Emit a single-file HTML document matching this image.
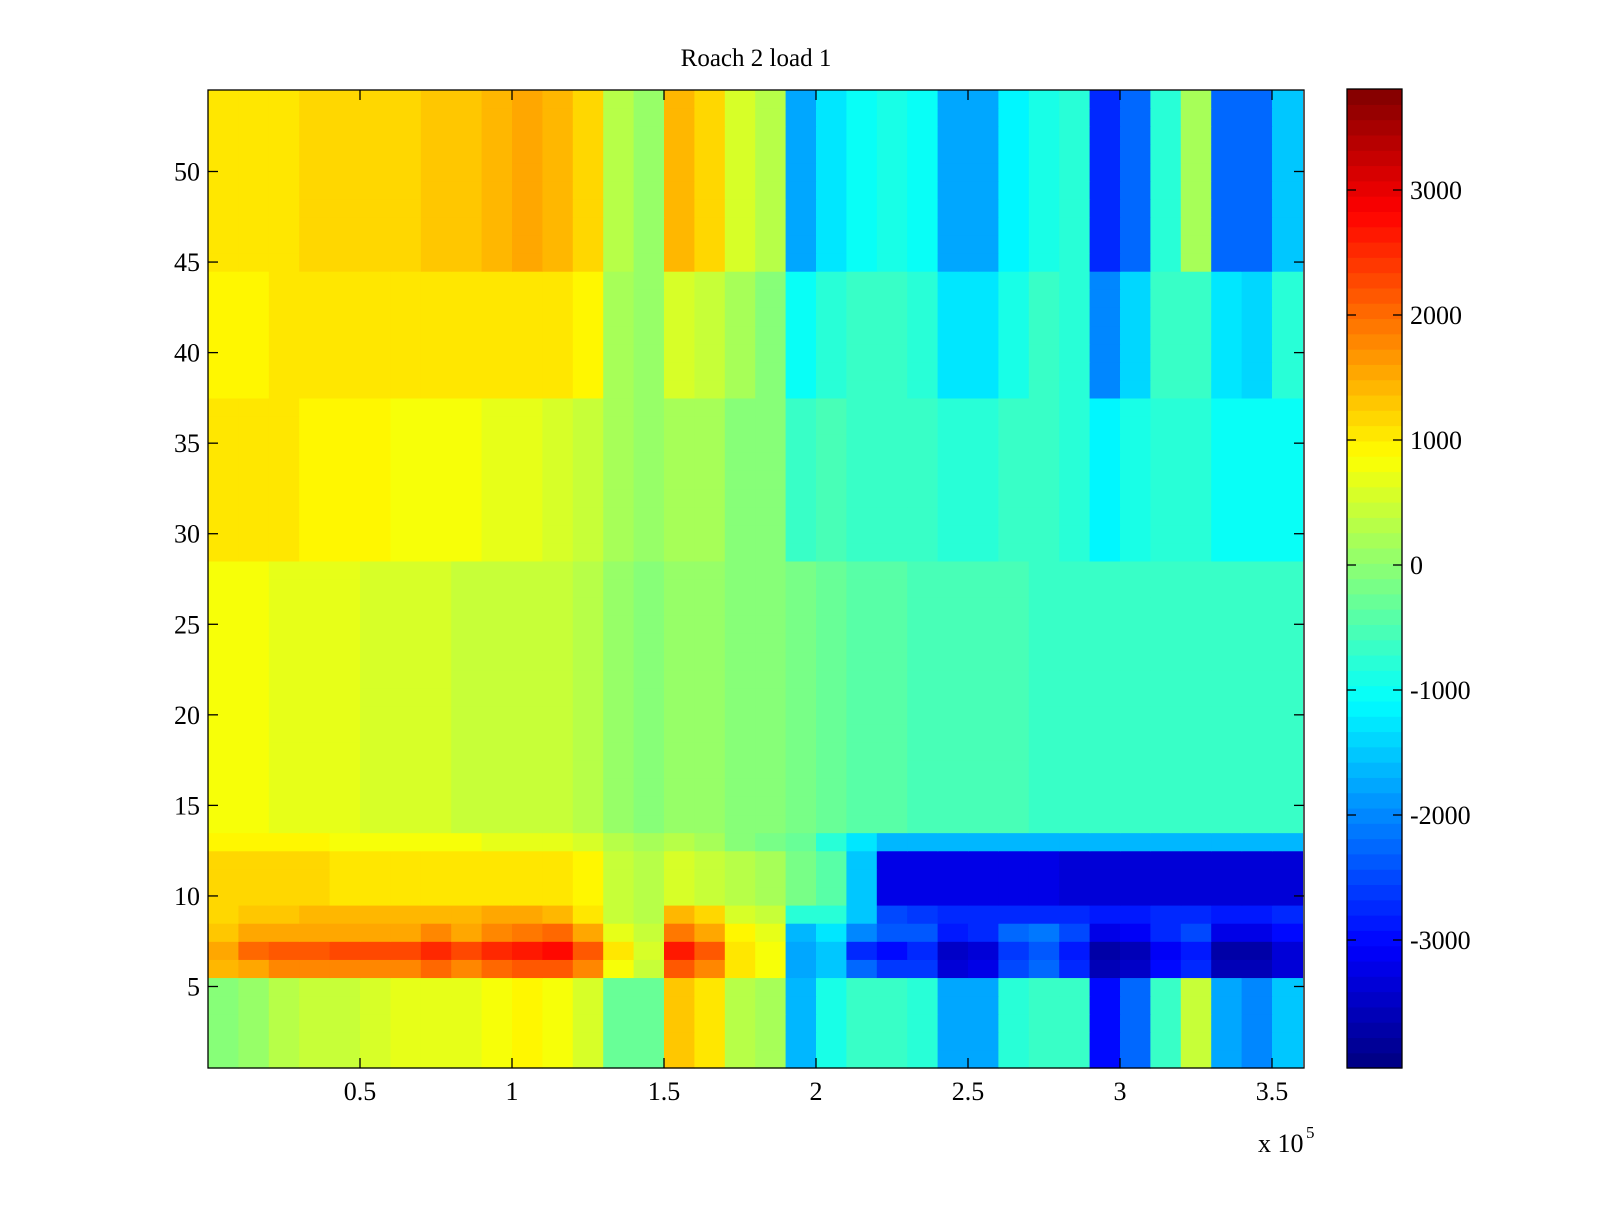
<!DOCTYPE html>
<html><head><meta charset="utf-8"><style>
html,body{margin:0;padding:0;background:#fff;}
svg text{font-family:"Liberation Serif",serif;fill:#000;}
</style></head><body>
<svg id="fig" width="1600" height="1200" xmlns="http://www.w3.org/2000/svg">
<rect width="1600" height="1200" fill="#fff"/>
<text x="756" y="66" font-size="25" text-anchor="middle">Roach 2 load 1</text>
<g id="heat"></g>
<g id="cbar"></g>
<g id="axes"></g>
</svg>
<script>
// values in thousands; 36 x-segments of 1e4 each; bands of rows from bottom
const bandRowCounts = [5,1,1,1,1,3,1,15,9,7,10];
const bandValues = [
[0.0,0.1,0.3,0.4,0.5,0.6,0.7,0.7,0.7,0.8,0.9,0.8,0.6,-0.3,-0.3,1.3,1.1,0.3,0.2,-1.6,-0.9,-0.7,-0.6,-0.8,-1.8,-1.7,-0.8,-0.6,-0.7,-3.0,-2.2,-0.6,0.4,-1.8,-2.0,-1.5],
[1.4,1.6,1.8,1.8,1.8,1.8,1.8,2.0,1.8,2.0,2.1,2.2,1.8,0.8,0.5,2.2,1.8,1.0,0.8,-1.8,-1.5,-2.3,-2.6,-2.6,-3.3,-3.2,-2.5,-2.3,-2.8,-3.6,-3.5,-3.0,-2.8,-3.6,-3.6,-3.3],
[1.6,2.0,2.2,2.2,2.3,2.3,2.3,2.5,2.3,2.5,2.6,2.8,2.2,1.0,0.6,2.7,2.2,1.0,0.8,-1.8,-1.5,-2.7,-3.0,-2.8,-3.5,-3.4,-2.6,-2.4,-2.9,-3.7,-3.6,-3.1,-2.9,-3.7,-3.7,-3.4],
[1.3,1.5,1.6,1.6,1.6,1.6,1.6,1.8,1.6,1.8,1.9,2.0,1.6,0.7,0.5,1.9,1.6,0.9,0.7,-1.6,-1.3,-2.0,-2.4,-2.4,-2.9,-2.8,-2.3,-2.1,-2.5,-3.2,-3.1,-2.7,-2.5,-3.2,-3.2,-3.0],
[1.2,1.3,1.3,1.4,1.4,1.4,1.4,1.4,1.4,1.5,1.5,1.4,1.1,0.5,0.3,1.4,1.2,0.6,0.5,-0.8,-0.8,-1.5,-2.5,-2.6,-2.8,-2.8,-2.7,-2.7,-2.8,-2.9,-2.9,-2.8,-2.8,-2.9,-2.9,-2.8],
[1.2,1.2,1.2,1.2,1.1,1.1,1.1,1.1,1.1,1.1,1.1,1.0,0.9,0.5,0.3,0.6,0.5,0.3,0.2,-0.2,-0.4,-1.5,-3.2,-3.2,-3.2,-3.2,-3.2,-3.2,-3.3,-3.3,-3.3,-3.3,-3.3,-3.3,-3.3,-3.3],
[0.9,0.9,0.9,0.9,0.8,0.8,0.8,0.8,0.8,0.7,0.7,0.7,0.6,0.3,0.2,0.3,0.2,0.0,-0.2,-0.3,-0.8,-1.3,-1.6,-1.6,-1.6,-1.6,-1.6,-1.6,-1.6,-1.6,-1.6,-1.6,-1.6,-1.6,-1.6,-1.6],
[0.8,0.8,0.7,0.7,0.7,0.6,0.6,0.6,0.5,0.5,0.5,0.4,0.3,0.1,0.0,0.1,0.1,0.0,-0.1,-0.2,-0.3,-0.4,-0.4,-0.5,-0.5,-0.5,-0.5,-0.6,-0.6,-0.6,-0.6,-0.6,-0.6,-0.6,-0.7,-0.7],
[1.0,1.0,1.0,0.9,0.9,0.9,0.8,0.8,0.8,0.7,0.7,0.6,0.5,0.2,0.1,0.2,0.2,0.0,-0.1,-0.6,-0.5,-0.6,-0.6,-0.7,-0.8,-0.8,-0.7,-0.7,-0.8,-1.2,-0.9,-0.8,-0.8,-1.0,-1.0,-1.0],
[0.9,0.9,1.0,1.0,1.0,1.1,1.1,1.1,1.1,1.1,1.1,1.0,0.9,0.2,0.1,0.6,0.5,0.2,0.0,-1.0,-0.8,-0.7,-0.7,-0.8,-1.3,-1.3,-0.9,-0.7,-0.8,-2.0,-1.4,-0.6,-0.6,-1.3,-1.4,-0.8],
[1.0,1.0,1.1,1.2,1.2,1.2,1.2,1.3,1.3,1.4,1.5,1.4,1.2,0.3,0.1,1.4,1.2,0.6,0.3,-1.7,-1.3,-1.0,-0.9,-1.0,-1.8,-1.8,-1.2,-0.9,-0.8,-2.8,-2.2,-0.8,0.2,-2.3,-2.3,-1.5]
];
const xTicks = [0.5,1,1.5,2,2.5,3,3.5];
const xTickLabels = ["0.5","1","1.5","2","2.5","3","3.5"];
const yTicks = [5,10,15,20,25,30,35,40,45,50];
const cTicks = [-3000,-2000,-1000,0,1000,2000,3000];
const NS="http://www.w3.org/2000/svg";
const PL=208,PR=1304,PT=90,PB=1068;
const XMAX=(PR-PL)/304, YMIN=0.5, YMAX=54.5;
const CMIN=-4024, CMAX=3808;
const CBL=1347,CBR=1402,CBT=89,CBB=1068;
function sx(v){return PL+(v/XMAX)*(PR-PL);}
function sy(v){return PB-(v-YMIN)/(YMAX-YMIN)*(PB-PT);}
function cy(v){return CBB-(v-CMIN)/(CMAX-CMIN)*(CBB-CBT);}
function jet(t){t=Math.max(0,Math.min(1,t));
 const f=x=>Math.round(255*Math.max(0,Math.min(1,x)));
 return `rgb(${f(1.5-Math.abs(4*t-3))},${f(1.5-Math.abs(4*t-2))},${f(1.5-Math.abs(4*t-1))})`;}
function colorOf(v){const k=Math.min(63,Math.floor((v-CMIN)/(CMAX-CMIN)*64));return jet((k+0.5)/64);}
function mk(tag,attrs,parent){const e=document.createElementNS(NS,tag);for(const k in attrs)e.setAttribute(k,attrs[k]);parent.appendChild(e);return e;}
const heat=document.getElementById('heat');
let row=1;
bandValues.forEach((vals,b)=>{
  for(let r=0;r<bandRowCounts[b];r++){
    vals.forEach((v,i)=>{
      const x0=sx(i*0.1), x1=sx(Math.min((i+1)*0.1,XMAX));
      const c=mk('rect',{x:x0,y:sy(row+0.5),width:x1-x0+0.6,height:sy(row-0.5)-sy(row+0.5)+0.6,fill:colorOf(v*1000)},heat);
      
      
    });
    row++;
  }
});
const axes=document.getElementById('axes');
mk('rect',{x:PL,y:PT,width:PR-PL,height:PB-PT,fill:'none',stroke:'#000','stroke-width':1.3},axes);
xTicks.forEach((t,i)=>{const x=sx(t);
  mk('line',{x1:x,x2:x,y1:PB,y2:PB-10,stroke:'#000','stroke-width':1.3},axes);
  mk('line',{x1:x,x2:x,y1:PT,y2:PT+10,stroke:'#000','stroke-width':1.3},axes);
  const tx=mk('text',{x:x,y:PB+32,'font-size':26,'text-anchor':'middle'},axes);tx.textContent=xTickLabels[i];
  
  
});
yTicks.forEach(t=>{const y=sy(t);
  mk('line',{x1:PL,x2:PL+10,y1:y,y2:y,stroke:'#000','stroke-width':1.3},axes);
  mk('line',{x1:PR,x2:PR-10,y1:y,y2:y,stroke:'#000','stroke-width':1.3},axes);
  const tx=mk('text',{x:PL-8,y:y+9,'font-size':26,'text-anchor':'end'},axes);tx.textContent=String(t);
  
  
});
const ex=mk('text',{x:1258,y:1152,'font-size':26},axes);ex.textContent='x 10';


const ex2=mk('text',{x:1306,y:1138,'font-size':17},axes);ex2.textContent='5';


const cb=document.getElementById('cbar');
for(let k=0;k<64;k++){
  const v0=CMIN+k*(CMAX-CMIN)/64, v1=CMIN+(k+1)*(CMAX-CMIN)/64;
  const r=mk('rect',{x:CBL,y:cy(v1),width:CBR-CBL,height:cy(v0)-cy(v1)+0.6,fill:jet((k+0.5)/64)},cb);
  
  
}
mk('rect',{x:CBL,y:CBT,width:CBR-CBL,height:CBB-CBT,fill:'none',stroke:'#000','stroke-width':1.3},cb);
cTicks.forEach(t=>{const y=cy(t);
  mk('line',{x1:CBL,x2:CBL+9,y1:y,y2:y,stroke:'#000','stroke-width':1.3},cb);
  mk('line',{x1:CBR,x2:CBR-9,y1:y,y2:y,stroke:'#000','stroke-width':1.3},cb);
  const tx=mk('text',{x:CBR+8,y:y+9,'font-size':26},cb);tx.textContent=String(t);
  
  
});
</script>
</body></html>
